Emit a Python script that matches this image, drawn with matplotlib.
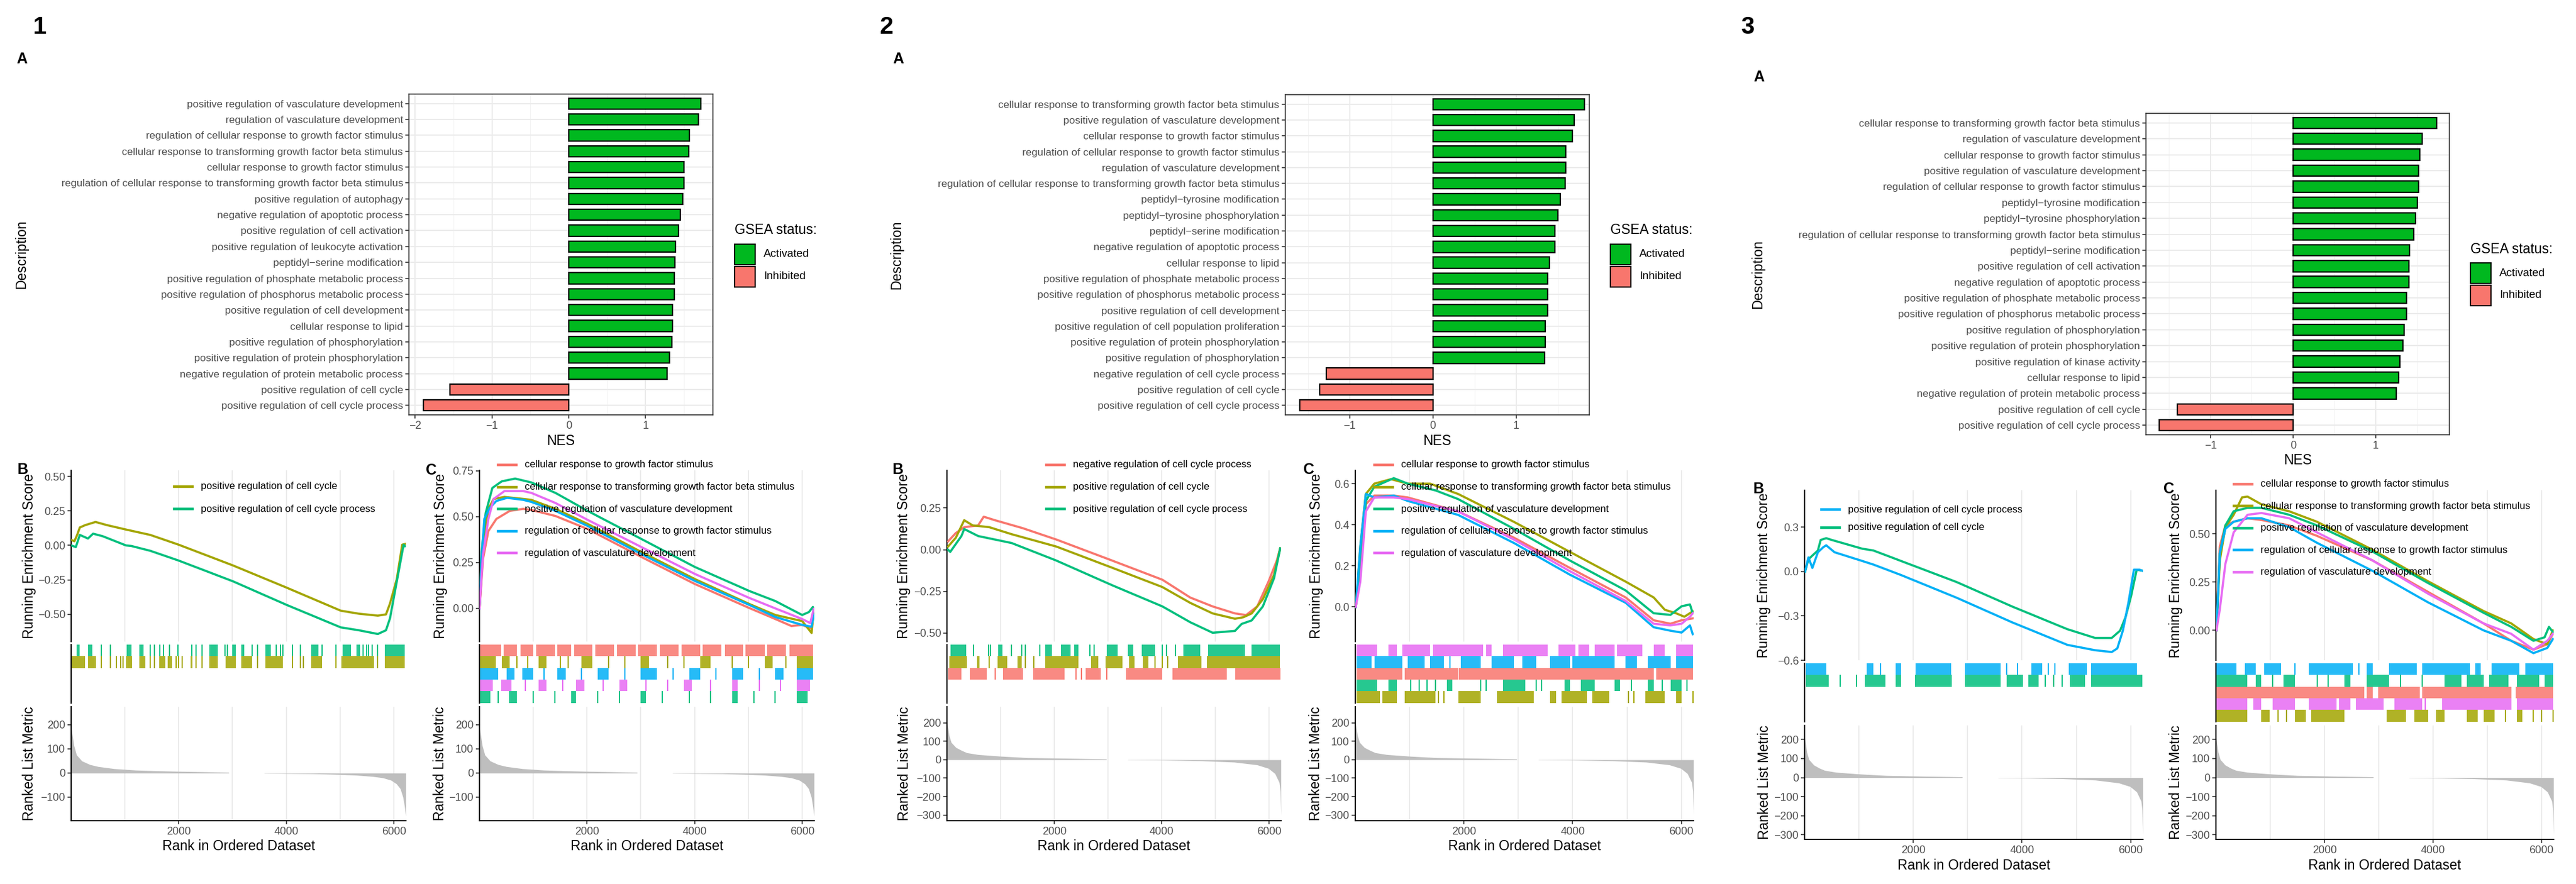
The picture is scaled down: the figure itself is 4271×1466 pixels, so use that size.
import matplotlib
matplotlib.use("Agg")
import matplotlib.pyplot as plt
from matplotlib.lines import Line2D
from matplotlib.patches import Rectangle

plt.rcParams['font.family'] = ['Liberation Sans', 'DejaVu Sans']

W, H = 4271, 1466
GREEN = '#00B81F'
RED = '#F8766D'
PAL = {'red': '#F8766D', 'olive': '#A3A500', 'teal': '#00BF7D',
       'blue': '#00B0F6', 'pink': '#E76BF3'}
GRID = '#EBEBEB'
TXT = '#4D4D4D'

# ---------------- panel A data (NES bar charts) ----------------
terms_1 = ["positive regulation of vasculature development",
           "regulation of vasculature development",
           "regulation of cellular response to growth factor stimulus",
           "cellular response to transforming growth factor beta stimulus",
           "cellular response to growth factor stimulus",
           "regulation of cellular response to transforming growth factor beta stimulus",
           "positive regulation of autophagy",
           "negative regulation of apoptotic process",
           "positive regulation of cell activation",
           "positive regulation of leukocyte activation",
           "peptidyl\u2212serine modification",
           "positive regulation of phosphate metabolic process",
           "positive regulation of phosphorus metabolic process",
           "positive regulation of cell development",
           "cellular response to lipid",
           "positive regulation of phosphorylation",
           "positive regulation of protein phosphorylation",
           "negative regulation of protein metabolic process",
           "positive regulation of cell cycle",
           "positive regulation of cell cycle process"]
nes_1 = [1.72, 1.69, 1.57, 1.56, 1.50, 1.50, 1.48, 1.45, 1.43, 1.39,
         1.38, 1.37, 1.37, 1.35, 1.35, 1.34, 1.31, 1.28, -1.55, -1.89]

terms_2 = ["cellular response to transforming growth factor beta stimulus",
           "positive regulation of vasculature development",
           "cellular response to growth factor stimulus",
           "regulation of cellular response to growth factor stimulus",
           "regulation of vasculature development",
           "regulation of cellular response to transforming growth factor beta stimulus",
           "peptidyl\u2212tyrosine modification",
           "peptidyl\u2212tyrosine phosphorylation",
           "peptidyl\u2212serine modification",
           "negative regulation of apoptotic process",
           "cellular response to lipid",
           "positive regulation of phosphate metabolic process",
           "positive regulation of phosphorus metabolic process",
           "positive regulation of cell development",
           "positive regulation of cell population proliferation",
           "positive regulation of protein phosphorylation",
           "positive regulation of phosphorylation",
           "negative regulation of cell cycle process",
           "positive regulation of cell cycle",
           "positive regulation of cell cycle process"]
nes_2 = [1.82, 1.70, 1.68, 1.60, 1.60, 1.59, 1.53, 1.50, 1.47, 1.47,
         1.40, 1.38, 1.38, 1.38, 1.35, 1.35, 1.34, -1.28, -1.36, -1.60]

terms_3 = ["cellular response to transforming growth factor beta stimulus",
           "regulation of vasculature development",
           "cellular response to growth factor stimulus",
           "positive regulation of vasculature development",
           "regulation of cellular response to growth factor stimulus",
           "peptidyl\u2212tyrosine modification",
           "peptidyl\u2212tyrosine phosphorylation",
           "regulation of cellular response to transforming growth factor beta stimulus",
           "peptidyl\u2212serine modification",
           "positive regulation of cell activation",
           "negative regulation of apoptotic process",
           "positive regulation of phosphate metabolic process",
           "positive regulation of phosphorus metabolic process",
           "positive regulation of phosphorylation",
           "positive regulation of protein phosphorylation",
           "positive regulation of kinase activity",
           "cellular response to lipid",
           "negative regulation of protein metabolic process",
           "positive regulation of cell cycle",
           "positive regulation of cell cycle process"]
nes_3 = [1.74, 1.56, 1.53, 1.52, 1.52, 1.50, 1.48, 1.46, 1.41, 1.40,
         1.40, 1.37, 1.37, 1.34, 1.33, 1.29, 1.28, 1.25, -1.40, -1.62]

# ---------------- running enrichment score curves ----------------
# panel 1B
r1b_olive = [1, 60, 111, 161, 262, 453, 665, 1018, 1471, 2000, 3008, 4000, 5013, 5350, 5703, 5854, 5930, 6056, 6156, 6207]
e1b_olive = [0.04, 0.03, 0.076, 0.13, 0.147, 0.17, 0.147, 0.115, 0.076, 0.005, -0.145, -0.305, -0.473, -0.495, -0.509, -0.50, -0.42, -0.243, 0.005, 0.01]
r1b_teal = [1, 86, 161, 312, 408, 584, 1018, 1118, 1471, 2000, 3008, 4000, 5013, 5350, 5703, 5854, 5930, 6056, 6182, 6207]
e1b_teal = [0.0, -0.012, 0.076, 0.05, 0.085, 0.067, 0.0, -0.004, -0.039, -0.11, -0.26, -0.43, -0.594, -0.615, -0.642, -0.615, -0.527, -0.26, 0.005, -0.005]

# panel 1C
r1c_red = [1, 65, 165, 314, 564, 813, 963, 1412, 2010, 3008, 4005, 5018, 5502, 5801, 6001, 6176, 6215]
e1c_red = [0, 0.269, 0.422, 0.488, 0.532, 0.543, 0.537, 0.504, 0.433, 0.281, 0.133, 0.002, -0.058, -0.096, -0.09, -0.11, -0.014]
r1c_olive = [1, 65, 165, 264, 464, 813, 963, 1412, 2010, 3008, 4005, 5018, 5502, 6001, 6176, 6215]
e1c_olive = [0, 0.324, 0.543, 0.597, 0.608, 0.597, 0.592, 0.543, 0.461, 0.308, 0.16, 0.024, -0.036, -0.069, -0.134, -0.009]
r1c_teal = [1, 40, 115, 239, 414, 663, 963, 1412, 2010, 3008, 4005, 5018, 5502, 6001, 6126, 6200, 6215]
e1c_teal = [0, 0.31, 0.52, 0.657, 0.693, 0.708, 0.687, 0.63, 0.532, 0.379, 0.226, 0.095, 0.04, -0.036, -0.02, 0.008, -0.025]
r1c_blue = [1, 40, 90, 190, 314, 514, 813, 963, 1412, 2010, 3008, 4005, 5018, 5502, 6001, 6176, 6215]
e1c_blue = [0, 0.27, 0.488, 0.548, 0.586, 0.603, 0.592, 0.581, 0.532, 0.45, 0.297, 0.15, 0.019, -0.047, -0.09, -0.1, -0.036]
r1c_pink = [1, 65, 165, 264, 464, 813, 963, 1412, 2010, 3008, 4005, 5018, 5502, 6001, 6151, 6215]
e1c_pink = [0, 0.291, 0.488, 0.597, 0.64, 0.64, 0.63, 0.575, 0.483, 0.335, 0.188, 0.057, 0.0, -0.058, -0.08, -0.003]

# panel 2B
r2b_red = [21, 166, 322, 582, 686, 894, 1414, 2038, 3078, 4014, 4534, 4950, 5366, 5574, 5782, 5990, 6146, 6209]
e2b_red = [0.05, 0.10, 0.135, 0.146, 0.198, 0.177, 0.129, 0.061, -0.065, -0.18, -0.287, -0.34, -0.382, -0.392, -0.34, -0.192, -0.065, 0.008]
r2b_olive = [21, 166, 322, 478, 790, 1206, 2038, 3078, 4014, 4534, 4950, 5366, 5522, 5678, 5886, 6094, 6209]
e2b_olive = [0.019, 0.072, 0.177, 0.146, 0.135, 0.093, 0.019, -0.108, -0.224, -0.319, -0.382, -0.414, -0.405, -0.382, -0.297, -0.15, 0.008]
r2b_teal = [21, 62, 270, 322, 582, 1206, 2038, 3078, 4014, 4534, 4950, 5366, 5491, 5678, 5886, 6094, 6209]
e2b_teal = [0.0, -0.013, 0.082, 0.124, 0.082, 0.04, -0.065, -0.213, -0.34, -0.435, -0.498, -0.487, -0.445, -0.424, -0.34, -0.171, 0.008]

# panel 2C
r2c_olive = [10, 93, 195, 350, 658, 966, 1378, 1892, 2920, 3948, 4975, 5490, 5695, 5901, 6055, 6209]
e2c_olive = [0, 0.294, 0.55, 0.60, 0.622, 0.60, 0.60, 0.55, 0.414, 0.268, 0.123, 0.046, -0.014, -0.031, -0.048, -0.022]
r2c_teal = [10, 93, 195, 350, 709, 966, 1480, 1892, 2920, 3948, 4975, 5490, 5798, 6004, 6158, 6209]
e2c_teal = [0, 0.209, 0.516, 0.585, 0.627, 0.60, 0.567, 0.525, 0.38, 0.226, 0.08, -0.031, -0.039, 0.003, 0.012, -0.031]
r2c_blue = [10, 93, 195, 350, 709, 966, 1892, 2920, 3948, 4975, 5490, 5798, 6004, 6158, 6209]
e2c_blue = [0, 0.294, 0.55, 0.533, 0.542, 0.516, 0.448, 0.311, 0.157, 0.02, -0.099, -0.116, -0.125, -0.09, -0.133]
r2c_pink = [10, 93, 195, 350, 709, 966, 1892, 2920, 3948, 4975, 5490, 5798, 6004, 6158, 6209]
e2c_pink = [0, 0.123, 0.465, 0.533, 0.533, 0.525, 0.465, 0.328, 0.174, 0.029, -0.082, -0.09, -0.082, -0.048, -0.031]
r2c_red = [10, 93, 195, 350, 709, 966, 1892, 2920, 3948, 4975, 5490, 5798, 6004, 6209]
e2c_red = [0, 0.209, 0.5, 0.542, 0.542, 0.533, 0.465, 0.337, 0.19, 0.046, -0.065, -0.082, -0.065, -0.056]

# panel 3B
r3b_blue = [10, 71, 143, 245, 347, 398, 551, 1061, 1265, 1775, 2795, 3815, 4835, 5345, 5651, 5753, 5855, 5957, 6059, 6161, 6215]
e3b_blue = [0, 0.095, 0.024, 0.13, 0.165, 0.177, 0.13, 0.071, 0.047, -0.024, -0.177, -0.343, -0.496, -0.532, -0.544, -0.52, -0.4, -0.213, 0.012, 0.012, 0.005]
r3b_teal = [10, 71, 245, 296, 398, 500, 1061, 1265, 1775, 2795, 3815, 4835, 5345, 5651, 5804, 5906, 6008, 6110, 6215]
e3b_teal = [0, 0.083, 0.142, 0.213, 0.225, 0.213, 0.154, 0.142, 0.071, -0.071, -0.236, -0.39, -0.449, -0.449, -0.4, -0.307, -0.165, 0.012, 0.005]

# panel 3C
r3c_olive = [10, 72, 174, 327, 481, 583, 839, 1350, 1862, 2885, 3908, 4931, 5442, 5852, 6108, 6210]
e3c_olive = [0, 0.362, 0.534, 0.598, 0.688, 0.692, 0.652, 0.616, 0.562, 0.417, 0.254, 0.1, 0.036, -0.045, -0.072, 0.0]
r3c_teal = [10, 72, 174, 327, 583, 839, 1350, 1862, 2885, 3908, 4931, 5442, 5852, 6057, 6138, 6210]
e3c_teal = [0, 0.399, 0.543, 0.616, 0.634, 0.634, 0.598, 0.543, 0.408, 0.245, 0.091, 0.018, -0.054, -0.036, 0.018, -0.009]
r3c_std = [10, 72, 174, 327, 583, 839, 1350, 1862, 2885, 3908, 4931, 5442, 5852, 6108, 6210]
e3c_red = [0, 0.435, 0.543, 0.562, 0.58, 0.571, 0.543, 0.489, 0.362, 0.199, 0.036, -0.054, -0.1, -0.072, -0.018]
e3c_blue = [0, 0.399, 0.525, 0.562, 0.58, 0.58, 0.534, 0.453, 0.308, 0.145, 0.0, -0.054, -0.118, -0.091, -0.045]
e3c_pink = [0, 0.109, 0.344, 0.507, 0.598, 0.607, 0.58, 0.507, 0.362, 0.19, 0.036, -0.018, -0.1, -0.054, -0.018]

# ---------------- gene set hit positions (rank spans; a==b is a single hit) ----------------
hits_1b_teal = [(96, 161), (312, 388), (564, 564), (725, 725), (1028, 1118), (1270, 1345), (1471, 1471), (1547, 1547), (1647, 1647), (1713, 1713), (1824, 1824), (1985, 1985), (2242, 2242), (2317, 2317), (2438, 2438), (2569, 2730), (2856, 2856), (2907, 2907), (2993, 3058), (3159, 3224), (3360, 3360), (3471, 3471), (3612, 3713), (3814, 3814), (3889, 3889), (3940, 3940), (4116, 4116), (4267, 4267), (4469, 4595), (4670, 4670), (4922, 4922), (5048, 5199), (5300, 5375), (5426, 5426), (5491, 5491), (5526, 5526), (5602, 5602), (5703, 5703), (5829, 6197)]
hits_1b_olive = [(1, 262), (312, 463), (564, 564), (725, 725), (841, 841), (917, 917), (967, 967), (1018, 1128), (1270, 1380), (1471, 1471), (1547, 1547), (1637, 1748), (1799, 1874), (1950, 1950), (2000, 2000), (2066, 2066), (2217, 2252), (2327, 2327), (2438, 2438), (2569, 2730), (2871, 3058), (3159, 3360), (3471, 3471), (3612, 3940), (4116, 4116), (4257, 4257), (4317, 4317), (4469, 4670), (4922, 4922), (5023, 5628), (5703, 5703), (5829, 6197)]

hits_1c_red = [(1, 400), (450, 700), (760, 1000), (1050, 1400), (1450, 1700), (1760, 2100), (2150, 2500), (2560, 2900), (2950, 3300), (3350, 3700), (3760, 4100), (4150, 4500), (4560, 4900), (4950, 5300), (5350, 5700), (5760, 6200)]
hits_1c_olive = [(1, 300), (420, 560), (700, 700), (900, 900), (1100, 1250), (1500, 1500), (1650, 1650), (1900, 2100), (2400, 2400), (2700, 2700), (3000, 3150), (3500, 3500), (3800, 3800), (4100, 4300), (4700, 4700), (5000, 5000), (5300, 5450), (5700, 5700), (5900, 6200)]
hits_1c_blue = [(1, 350), (500, 650), (800, 1000), (1200, 1200), (1450, 1600), (1900, 1900), (2200, 2400), (2700, 2700), (3000, 3300), (3600, 3600), (3900, 4100), (4400, 4400), (4700, 4900), (5200, 5200), (5500, 5650), (5900, 6200)]
hits_1c_pink = [(1, 250), (400, 600), (850, 850), (1100, 1250), (1550, 1550), (1800, 1950), (2300, 2300), (2600, 2750), (3100, 3100), (3500, 3500), (3800, 3950), (4300, 4300), (4700, 4800), (5200, 5200), (5600, 5600), (5900, 6150)]
hits_1c_teal = [(1, 200), (350, 350), (550, 700), (1000, 1000), (1400, 1400), (1700, 1800), (2200, 2200), (2600, 2600), (3000, 3100), (3400, 3400), (3900, 3900), (4300, 4300), (4700, 4800), (5100, 5100), (5500, 5500), (5900, 6100)]

hits_2b_teal = [(62, 354), (499, 499), (770, 770), (811, 811), (957, 1030), (1206, 1206), (1394, 1394), (1466, 1466), (1726, 1726), (1830, 1955), (2122, 2298), (2371, 2454), (2662, 2662), (2746, 2746), (2974, 3182), (3370, 3474), (3630, 3879), (4014, 4014), (4087, 4087), (4254, 4254), (4410, 4722), (4867, 5554), (5678, 6198)]
hits_2b_olive = [(42, 374), (562, 603), (790, 790), (946, 1123), (1310, 1394), (1466, 1466), (1622, 1622), (1830, 2454), (2683, 2818), (2954, 3266), (3390, 3494), (3650, 3754), (3879, 3879), (4014, 4014), (4118, 4118), (4306, 4742), (4846, 6198)]
hits_2b_red = [(21, 270), (426, 738), (894, 894), (1050, 1414), (1602, 2194), (2402, 2402), (2506, 2506), (2579, 2870), (2974, 2974), (3338, 4014), (4202, 5210), (5366, 6219)]

hits_2c_pink = [(21, 401), (607, 761), (864, 1378), (1429, 2354), (2406, 2508), (2714, 3536), (3742, 4050), (4102, 4307), (4410, 4770), (4821, 5284), (5490, 5695), (5901, 6215)]
hits_2c_blue = [(21, 298), (350, 864), (966, 1275), (1378, 1635), (1737, 1737), (1943, 2303), (2508, 2920), (3074, 3331), (3588, 3948), (3999, 4770), (4975, 5181), (5387, 5798), (5901, 6215)]
hits_2c_red = [(21, 864), (915, 1892), (1912, 5490), (5541, 6215)]
hits_2c_teal = [(21, 401), (607, 761), (1018, 1018), (1172, 1172), (1326, 1326), (1480, 1480), (1686, 1789), (2303, 2303), (2406, 2406), (2714, 3125), (3331, 3331), (3434, 3434), (3845, 3948), (4153, 4410), (4770, 4873), (5078, 5078), (5387, 5490), (5644, 5644), (5798, 6004), (6106, 6106)]
hits_2c_olive = [(21, 452), (504, 761), (915, 1480), (1532, 1532), (1635, 1635), (1892, 2303), (2611, 3279), (3588, 3691), (3793, 4256), (4359, 4667), (5027, 5027), (5130, 5130), (5335, 5695), (5901, 6004), (6209, 6209)]

hits_3b_blue = [(20, 398), (1142, 1265), (1397, 1397), (1673, 1775), (2040, 2693), (2948, 3611), (3713, 3713), (3917, 3917), (4172, 4376), (4478, 4478), (4610, 4610), (4855, 5192), (5273, 6110)]
hits_3b_teal = [(20, 449), (653, 653), (959, 959), (1112, 1489), (1673, 1775), (2030, 2713), (2948, 3611), (3713, 4019), (4121, 4304), (4427, 4427), (4580, 4580), (4733, 4733), (4886, 5161), (5273, 6212)]

hits_3c_blue = [(1, 379), (532, 737), (890, 1197), (1453, 1453), (1708, 2527), (2629, 2629), (2783, 2885), (3192, 3703), (3806, 4675), (4778, 4880), (5084, 5596), (5698, 6215)]
hits_3c_teal = [(1, 583), (737, 839), (1043, 1043), (1248, 1453), (1862, 1862), (2066, 2066), (2373, 2476), (2783, 3192), (3396, 3396), (3806, 3806), (4215, 4522), (4624, 4931), (5033, 5391), (5545, 5954), (6056, 6215)]
hits_3c_red = [(1, 2731), (2783, 2885), (2987, 3754), (3806, 5442), (5524, 6215)]
hits_3c_pink = [(1, 583), (685, 839), (1043, 1453), (1708, 2220), (2271, 2476), (2578, 3090), (3294, 3806), (3857, 3857), (4164, 5442), (5545, 6215)]
hits_3c_olive = [(1, 583), (839, 992), (1146, 1146), (1299, 1299), (1453, 1657), (1760, 2373), (3141, 3499), (3652, 3908), (4061, 4215), (4624, 4829), (4931, 5135), (5340, 5340), (5545, 5647), (5852, 5852), (6005, 6005), (6210, 6210)]

# ---------------- ranked list metric ----------------
m1_rank = [1, 20, 50, 100, 200, 350, 500, 800, 1200, 1600, 2000, 2500, 2930, 2931, 3590, 3591, 4000, 4500, 5000, 5300, 5600, 5800, 5950, 6050, 6120, 6170, 6200, 6222]
m1_val = [190, 160, 115, 75, 50, 35, 27, 18, 12, 9, 7, 5, 3, 0, 0, -1, -2, -3, -6, -9, -14, -20, -30, -45, -65, -100, -140, -178]
m2_rank = [1, 40, 80, 170, 270, 370, 580, 1000, 1500, 2250, 2970, 2971, 3370, 3371, 4000, 4750, 5350, 5780, 5990, 6110, 6190, 6210, 6222]
m2_val = [210, 132, 94, 66, 51, 38, 28, 19, 11, 8, 4, 0, 0, -1, -2, -6, -13, -28, -47, -75, -123, -170, -300]
m3_rank = [1, 40, 80, 170, 270, 370, 580, 1000, 1500, 2250, 2900, 2901, 3560, 3561, 4000, 4750, 5350, 5780, 5990, 6110, 6190, 6210, 6222]
m3_val = [215, 135, 95, 66, 50, 38, 28, 19, 11, 7, 4, 0, 0, -1, -2, -6, -13, -28, -47, -75, -123, -170, -300]

L_GF = "cellular response to growth factor stimulus"
L_TGF = "cellular response to transforming growth factor beta stimulus"
L_PVD = "positive regulation of vasculature development"
L_RGF = "regulation of cellular response to growth factor stimulus"
L_RVD = "regulation of vasculature development"
L_CC = "positive regulation of cell cycle"
L_CCP = "positive regulation of cell cycle process"
L_NCCP = "negative regulation of cell cycle process"

fig = plt.figure(figsize=(W / 100, H / 100), dpi=100)


def box(x0, y0, x1, y1):
    return [x0 / W, 1 - y1 / H, (x1 - x0) / W, (y1 - y0) / H]


def ftext(x, y, s, **kw):
    fig.text(x / W, 1 - y / H, s, **kw)


def minus(v, fmt):
    return (fmt % v).replace('-', '\u2212')


def bar_panel(px, terms, nes, xlim, xticks, ylab_x, nes_y, leg):
    ax = fig.add_axes(box(*px))
    n = len(terms)
    ypos = list(range(n - 1, -1, -1))
    cols = [GREEN if v > 0 else RED for v in nes]
    ax.barh(ypos, nes, height=0.7, color=cols, edgecolor='black', linewidth=1.6, zorder=3)
    ax.set_ylim(-0.6, n - 0.4)
    ax.set_xlim(*xlim)
    ax.set_yticks(ypos)
    ax.set_yticklabels(terms, fontsize=12.5, color=TXT)
    ax.set_xticks(xticks)
    ax.set_xticklabels([minus(t, '%d') for t in xticks], fontsize=13, color=TXT)
    ax.set_xticks([t + 0.5 for t in range(-2, 2) if xlim[0] < t + 0.5 < xlim[1]], minor=True)
    ax.grid(which='major', color=GRID, lw=1.4, zorder=0)
    ax.grid(which='minor', axis='x', color='#F3F3F3', lw=0.8, zorder=0)
    ax.set_axisbelow(True)
    for s in ax.spines.values():
        s.set_color('#333333')
        s.set_linewidth(1.2)
    ax.tick_params(which='major', length=4, width=1.2, color='#333333', pad=3)
    ax.tick_params(which='minor', length=0)
    cx = (px[0] + px[2]) / 2
    ftext(cx, nes_y, 'NES', fontsize=16.5, ha='center', va='center')
    ftext(ylab_x, (px[1] + px[3]) / 2, 'Description', fontsize=16.5, rotation=90,
          ha='center', va='center')
    lx, ty, gy = leg
    ftext(lx, ty, 'GSEA status:', fontsize=16.5, ha='left', va='center')
    for k, (c, lab) in enumerate([(GREEN, 'Activated'), (RED, 'Inhibited')]):
        y0 = gy + k * 36.5
        fig.patches.append(Rectangle((lx / W, 1 - (y0 + 34) / H), 34 / W, 34 / H,
                                     facecolor=c, edgecolor='black', lw=1.5,
                                     transform=fig.transFigure, figure=fig))
        ftext(lx + 48, y0 + 17, lab, fontsize=13.3, ha='left', va='center')
    return ax


def gsea_panel(x0, x1, ys, curves, ylim, yticks, yfmt, rugs, mr, mv, mlim, mticks,
               leg, ylab_x, title_y):
    es_t, es_b, rg_t, rg_b, m_t, m_b = ys
    xmax = 6225
    # running enrichment score
    ax = fig.add_axes(box(x0, es_t, x1, es_b))
    for r, e, c in curves:
        ax.plot(r, e, color=PAL[c], lw=2.6, solid_joinstyle='round', zorder=3)
    ax.set_xlim(0, xmax)
    ax.set_ylim(*ylim)
    ax.set_xticks([])
    for g in range(1000, 7000, 1000):
        ax.axvline(g, color=GRID, lw=1.3, zorder=0)
    ax.set_yticks(yticks)
    ax.set_yticklabels([minus(t, yfmt) for t in yticks], fontsize=13, color=TXT)
    for s in ['top', 'right', 'bottom']:
        ax.spines[s].set_visible(False)
    ax.spines['left'].set_linewidth(1.5)
    ax.tick_params(axis='y', length=4, width=1.2, color='#333333', pad=3)
    # hit rug
    ar = fig.add_axes(box(x0, rg_t, x1, rg_b))
    top = (rg_b - rg_t) / 19.3
    for i, (c, spans) in enumerate(rugs):
        y0 = top - (i + 1)
        for a, b in spans:
            if b - a < 8:
                ar.vlines(a, y0, y0 + 1, color=PAL[c], lw=1.4)
            else:
                ar.broken_barh([(a, b - a)], (y0, 1), facecolors=PAL[c], alpha=0.85, lw=0)
    ar.set_xlim(0, xmax)
    ar.set_ylim(0, top)
    ar.set_xticks([])
    ar.set_yticks([])
    for s in ['top', 'right', 'bottom']:
        ar.spines[s].set_visible(False)
    ar.spines['left'].set_linewidth(1.5)
    # ranked list metric
    am = fig.add_axes(box(x0, m_t, x1, m_b))
    am.fill_between(mr, 0, mv, color='#BEBEBE', lw=0, zorder=2)
    am.set_xlim(0, xmax)
    am.set_ylim(*mlim)
    for g in range(1000, 7000, 1000):
        am.axvline(g, color=GRID, lw=1.3, zorder=0)
    am.set_xticks([2000, 4000, 6000])
    am.set_xticklabels(['2000', '4000', '6000'], fontsize=13, color=TXT)
    am.set_yticks(mticks)
    am.set_yticklabels([minus(t, '%d') for t in mticks], fontsize=13, color=TXT)
    for s in ['top', 'right']:
        am.spines[s].set_visible(False)
    am.spines['left'].set_linewidth(1.5)
    am.spines['bottom'].set_linewidth(1.5)
    am.tick_params(length=4, width=1.2, color='#333333', pad=3)
    # titles
    ftext(ylab_x, (es_t + es_b) / 2, 'Running Enrichment Score', fontsize=16.5,
          rotation=90, ha='center', va='center')
    ftext(ylab_x, (m_t + m_b) / 2, 'Ranked List Metric', fontsize=16.5,
          rotation=90, ha='center', va='center')
    ftext((x0 + x1) / 2, title_y, 'Rank in Ordered Dataset', fontsize=16.5,
          ha='center', va='center')
    # legend
    lx, ly, dy, entries = leg
    for k, (c, lab) in enumerate(entries):
        y = ly + k * dy
        fig.add_artist(Line2D([lx / W, (lx + 30) / W], [1 - y / H, 1 - y / H],
                              color=PAL[c], lw=3.2, transform=fig.transFigure))
        ftext(lx + 44, y, lab, fontsize=12, ha='left', va='center')


# ---------------- panel labels ----------------
for x, y, s in [(66, 45, '1'), (1470, 45, '2'), (2897, 45, '3')]:
    ftext(x, y, s, fontsize=29, fontweight='bold', ha='center', va='center')
for x, y, s in [(36, 98, 'A'), (1489, 98, 'A'), (2916, 128, 'A'),
                (37, 779, 'B'), (715, 780, 'C'), (1488, 779, 'B'), (2170, 779, 'C'),
                (2915, 811, 'B'), (3596, 811, 'C')]:
    ftext(x, y, s, fontsize=18, fontweight='bold', ha='center', va='center')

# ---------------- bar charts ----------------
bar_panel((678, 156, 1182, 688), terms_1, nes_1, (-2.08, 1.875), [-2, -1, 0, 1],
          36, 732, (1218, 382, 405))
bar_panel((2131, 157, 2635, 688), terms_2, nes_2, (-1.775, 1.88), [-1, 0, 1],
          1487, 732, (2670, 382, 405))
bar_panel((3558, 188, 4061, 721), terms_3, nes_3, (-1.78, 1.89), [-1, 0, 1],
          2915, 763, (4096, 414, 436))

# ---------------- GSEA plots ----------------
ys12 = (780, 1064, 1069, 1166, 1172, 1361)
ys3 = (813, 1095, 1100, 1197, 1203, 1392)

gsea_panel(118, 673, ys12,
           [(r1b_olive, e1b_olive, 'olive'), (r1b_teal, e1b_teal, 'teal')],
           (-0.697, 0.544), [-0.5, -0.25, 0.0, 0.25, 0.5], '%.2f',
           [('teal', hits_1b_teal), ('olive', hits_1b_olive)],
           m1_rank, m1_val, (-197.5, 275), [-100, 0, 100, 200],
           (289, 807, 37, [('olive', L_CC), ('teal', L_CCP)]), 49, 1404)

gsea_panel(795, 1350, ys12,
           [(r1c_red, e1c_red, 'red'), (r1c_olive, e1c_olive, 'olive'),
            (r1c_teal, e1c_teal, 'teal'), (r1c_blue, e1c_blue, 'blue'),
            (r1c_pink, e1c_pink, 'pink')],
           (-0.181, 0.753), [0.0, 0.25, 0.5, 0.75], '%.2f',
           [('red', hits_1c_red), ('olive', hits_1c_olive), ('blue', hits_1c_blue),
            ('pink', hits_1c_pink), ('teal', hits_1c_teal)],
           m1_rank, m1_val, (-197.5, 275), [-100, 0, 100, 200],
           (826, 771, 36.6, [('red', L_GF), ('olive', L_TGF), ('teal', L_PVD),
                             ('blue', L_RGF), ('pink', L_RVD)]), 730, 1404)

gsea_panel(1570, 2124, ys12,
           [(r2b_red, e2b_red, 'red'), (r2b_olive, e2b_olive, 'olive'),
            (r2b_teal, e2b_teal, 'teal')],
           (-0.551, 0.476), [-0.5, -0.25, 0.0, 0.25], '%.2f',
           [('teal', hits_2b_teal), ('olive', hits_2b_olive), ('red', hits_2b_red)],
           m2_rank, m2_val, (-331, 288), [-300, -200, -100, 0, 100, 200],
           (1735, 771, 36.5, [('red', L_NCCP), ('olive', L_CC), ('teal', L_CCP)]), 1499, 1404)

gsea_panel(2247, 2808, ys12,
           [(r2c_red, e2c_red, 'red'), (r2c_olive, e2c_olive, 'olive'),
            (r2c_teal, e2c_teal, 'teal'), (r2c_blue, e2c_blue, 'blue'),
            (r2c_pink, e2c_pink, 'pink')],
           (-0.169, 0.665), [0.0, 0.2, 0.4, 0.6], '%.1f',
           [('pink', hits_2c_pink), ('blue', hits_2c_blue), ('red', hits_2c_red),
            ('teal', hits_2c_teal), ('olive', hits_2c_olive)],
           m2_rank, m2_val, (-331, 288), [-300, -200, -100, 0, 100, 200],
           (2279, 771, 36.5, [('red', L_GF), ('olive', L_TGF), ('teal', L_PVD),
                              ('blue', L_RGF), ('pink', L_RVD)]), 2182, 1404)

gsea_panel(2992, 3553, ys3,
           [(r3b_teal, e3b_teal, 'teal'), (r3b_blue, e3b_blue, 'blue')],
           (-0.6, 0.549), [-0.6, -0.3, 0.0, 0.3], '%.1f',
           [('blue', hits_3b_blue), ('teal', hits_3b_teal)],
           m3_rank, m3_val, (-324, 274), [-300, -200, -100, 0, 100, 200],
           (3020, 845, 29.5, [('blue', L_CCP), ('teal', L_CC)]), 2925, 1436)

gsea_panel(3674, 4234, ys3,
           [(r3c_std, e3c_red, 'red'), (r3c_olive, e3c_olive, 'olive'),
            (r3c_teal, e3c_teal, 'teal'), (r3c_std, e3c_blue, 'blue'),
            (r3c_std, e3c_pink, 'pink')],
           (-0.155, 0.725), [0.0, 0.25, 0.5], '%.2f',
           [('blue', hits_3c_blue), ('teal', hits_3c_teal), ('red', hits_3c_red),
            ('pink', hits_3c_pink), ('olive', hits_3c_olive)],
           m3_rank, m3_val, (-324, 274), [-300, -200, -100, 0, 100, 200],
           (3704, 803, 36.4, [('red', L_GF), ('olive', L_TGF), ('teal', L_PVD),
                              ('blue', L_RGF), ('pink', L_RVD)]), 3607, 1436)

fig.savefig('out.png', dpi=100, facecolor='white')
